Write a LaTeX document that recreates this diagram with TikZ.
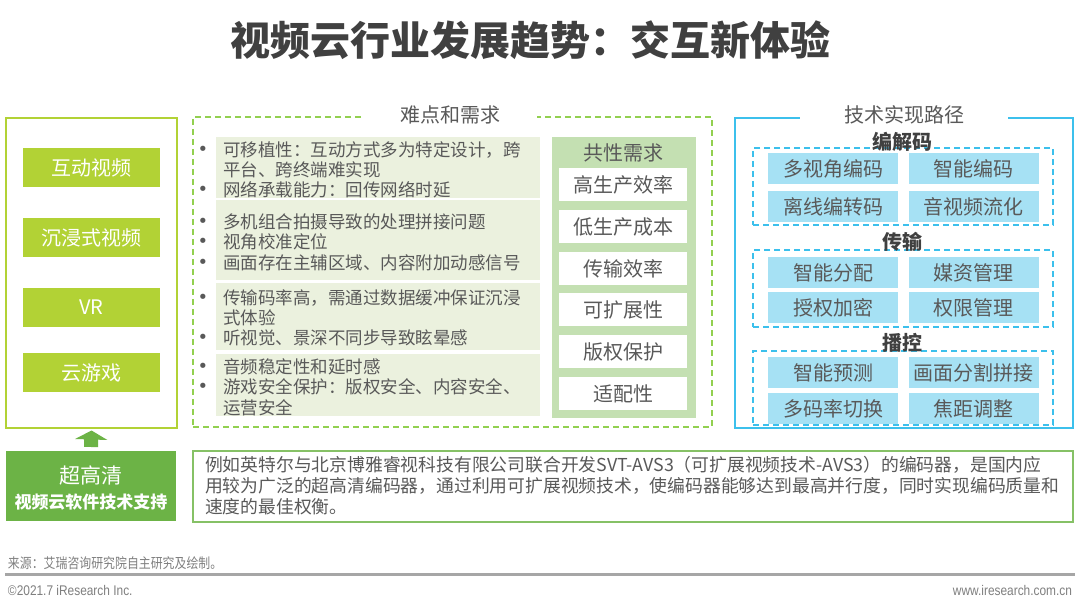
\documentclass[tikz,border=0pt]{standalone}
\usepackage{fontspec}
\setmainfont{Noto Sans CJK SC}
\newfontfamily\footfont{Noto Sans CJK SC}[FakeStretch=0.85]
\newfontfamily\footlat{Liberation Sans}[FakeStretch=0.85]
\newfontfamily\bulfont{DejaVu Sans}
\usetikzlibrary{arrows.meta,calc}
\definecolor{ygreen}{HTML}{B2D235}
\definecolor{dgreen}{HTML}{92D050}
\definecolor{palegreen}{HTML}{EBF1DE}
\definecolor{midgreen}{HTML}{C4E0B2}
\definecolor{txt}{HTML}{595959}
\definecolor{ttl}{HTML}{404040}
\definecolor{blueline}{HTML}{3CC0EC}
\definecolor{lightblue}{HTML}{A6E1F4}
\definecolor{boxgreen}{HTML}{6CB346}
\definecolor{outgreen}{HTML}{86C166}
\definecolor{footgray}{HTML}{A6A6A6}
\definecolor{foottxt}{HTML}{7F7F7F}
\newcommand\setfs[1]{\fontsize{#1pt}{#1pt}\selectfont}
\begin{document}
\begin{tikzpicture}[x=1pt,y=-1pt,
  every node/.style={inner sep=0pt,outer sep=0pt},
  btn/.style={fill=ygreen,minimum width=137pt,minimum height=39pt,text=white,font=\setfs{20}},
  panel/.style={fill=palegreen,anchor=north west,minimum width=324pt},
  item/.style={anchor=west,text=txt,font=\setfs{17.5}},
  bul/.style={text=txt,font=\bulfont\setfs{18}},
  need/.style={fill=white,minimum width=128pt,minimum height=33pt,text=txt,font=\setfs{20}},
  cell/.style={fill=lightblue,minimum width=130pt,minimum height=31pt,text=txt,font=\setfs{20}},
  grp/.style={draw=blueline,line width=1.5pt,dash pattern=on 6pt off 4pt,anchor=north west,minimum width=300pt},
  head/.style={text=ttl,font=\setfs{20}\bfseries},
  sectitle/.style={fill=white,text=txt,font=\setfs{20}},
  lbl/.style={text=txt,font=\setfs{20}}]
\useasboundingbox (0,0) rectangle (1080,609);
\fill[white] (0,0) rectangle (1080,609);

% title
\node[font=\setfs{40}\bfseries,text=ttl] (title) at (530,40) {视频云行业发展趋势：交互新体验};

% left column
\node[draw=ygreen,line width=1.5pt,minimum width=171pt,minimum height=310pt,anchor=north west] (apps) at (6,118) {};
\node[btn] (b1) at (91.5,167.5) {互动视频};
\node[btn] (b2) at (91.5,237.5) {沉浸式视频};
\node[btn] (b3) at (91.5,307.5) {VR};
\node[btn] (b4) at (91.5,372.5) {云游戏};

% middle block
\node[draw=dgreen,line width=1.5pt,dash pattern=on 6pt off 4pt,minimum width=519pt,minimum height=310pt,anchor=north west] (needs) at (193,117) {};
\node[sectitle,minimum width=174pt] (needsT) at (450,115) {难点和需求};

\node[panel,minimum height=61pt] (p1) at (216,137) {};
\node[panel,minimum height=80pt] (p2) at (216,200) {};
\node[panel,minimum height=67pt] (p3) at (216,283) {};
\node[panel,minimum height=62pt] (p4) at (216,354) {};

\node[bul] (u1) at (203,151) {•};
\node[item] (t1) at (223,150) {可移植性：互动方式多为特定设计，跨};
\node[item] (t2) at (223,170) {平台、跨终端难实现};
\node[bul] (u3) at (203,191) {•};
\node[item] (t3) at (223,190) {网络承载能力：回传网络时延};
\node[bul] (u4) at (203,223) {•};
\node[item] (t4) at (223,222) {多机组合拍摄导致的处理拼接问题};
\node[bul] (u5) at (203,243) {•};
\node[item] (t5) at (223,242) {视角校准定位};
\node[bul] (u6) at (203,264) {•};
\node[item] (t6) at (223,263) {画面存在主辅区域、内容附加动感信号};
\node[bul] (u7) at (203,299) {•};
\node[item] (t7) at (223,298) {传输码率高，需通过数据缓冲保证沉浸};
\node[item] (t8) at (223,318) {式体验};
\node[bul] (u9) at (203,339) {•};
\node[item] (t9) at (223,338) {听视觉、景深不同步导致眩晕感};
\node[bul] (u10) at (203,368) {•};
\node[item] (t10) at (223,367) {音频稳定性和延时感};
\node[bul] (u11) at (203,388) {•};
\node[item] (t11) at (223,387) {游戏安全保护：版权安全、内容安全、};
\node[item] (t12) at (223,408) {运营安全};

% common needs
\node[fill=midgreen,minimum width=144pt,minimum height=281pt,anchor=north west] (common) at (552,137) {};
\node[lbl] (commonT) at (623,153) {共性需求};
\node[need] (n1) at (623,185) {高生产效率};
\node[need] (n2) at (623,226.5) {低生产成本};
\node[need] (n3) at (623,268.5) {传输效率};
\node[need] (n4) at (623,310) {可扩展性};
\node[need] (n5) at (623,351.5) {版权保护};
\node[need] (n6) at (623,393.5) {适配性};

% right block
\node[draw=blueline,line width=1.5pt,minimum width=338pt,minimum height=310pt,anchor=north west] (tech) at (735,118) {};
\node[sectitle,minimum width=208pt] (techT) at (904,115) {技术实现路径};

\node[grp,minimum height=77pt] (g1) at (753,148) {};
\node[grp,minimum height=77pt] (g2) at (753,250) {};
\node[grp,minimum height=74pt] (g3) at (753,351) {};
\node[head] (h1) at (902,142) {编解码};
\node[head] (h2) at (902,242) {传输};
\node[head] (h3) at (902,343) {播控};

\node[cell] (c11) at (833,168.5) {多视角编码};
\node[cell] (c12) at (973.5,168.5) {智能编码};
\node[cell] (c13) at (833,206.5) {离线编转码};
\node[cell] (c14) at (973.5,206.5) {音视频流化};
\node[cell] (c21) at (833,272.5) {智能分配};
\node[cell] (c22) at (973.5,272.5) {媒资管理};
\node[cell] (c23) at (833,308) {授权加密};
\node[cell] (c24) at (973.5,308) {权限管理};
\node[cell] (c31) at (833,372.5) {智能预测};
\node[cell] (c32) at (973.5,372.5) {画面分割拼接};
\node[cell] (c33) at (833,408.5) {多码率切换};
\node[cell] (c34) at (973.5,408.5) {焦距调整};

% bottom
\node[fill=boxgreen,minimum width=170pt,minimum height=70pt,anchor=north west] (sup) at (6,451) {};
\node[text=white,font=\setfs{21}] (supA) at (91,475) {超高清};
\node[text=white,font=\setfs{17}\bfseries] (supB) at (91,502) {视频云软件技术支持};
\draw[boxgreen,line width=14pt,-{Triangle[width=32pt,length=9pt]}] ($(sup.north)+(0,-4)$) -- ($(apps.south)+(0,2.5)$);

\node[draw=outgreen,line width=1.5pt,minimum width=880pt,minimum height=71pt,anchor=north west] (ex) at (193,451) {};
\node[anchor=west,align=left,text=txt,font=\fontsize{17.8pt}{21pt}\selectfont] (exT) at (205,485.5) {例如英特尔与北京博雅睿视科技有限公司联合开发SVT-AVS3（可扩展视频技术-AVS3）的编码器，是国内应\\用较为广泛的超高清编码器，通过利用可扩展视频技术，使编码器能够达到最高并行度，同时实现编码质量和\\速度的最佳权衡。};

% footer
\node[anchor=west,text=foottxt,font=\footfont\setfs{14}] (src) at (8,563) {来源：艾瑞咨询研究院自主研究及绘制。};
\coordinate (lineL) at (5,575);
\coordinate (lineR) at (1075,575);
\draw[footgray,line width=3pt] (lineL) -- (lineR);
\node[anchor=west,text=foottxt,font=\footlat\setfs{14}] (copy) at (8,590) {©2021.7 iResearch Inc.};
\node[anchor=east,text=foottxt,font=\footlat\setfs{14}] (web) at (1072,590) {www.iresearch.com.cn};
\end{tikzpicture}
\end{document}
